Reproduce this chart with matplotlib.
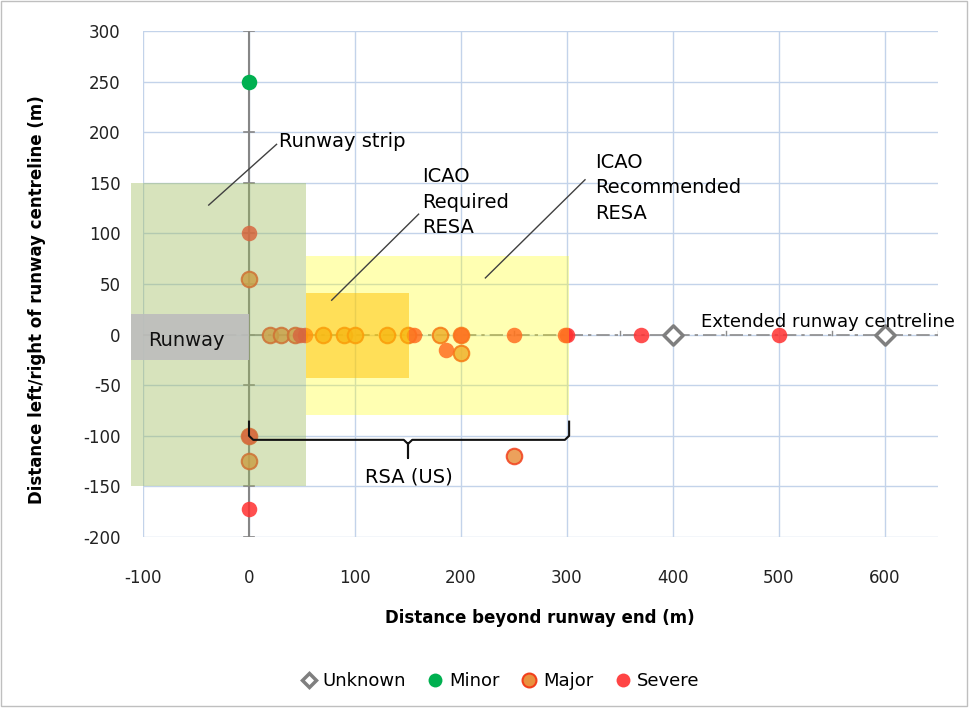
import matplotlib
matplotlib.use("Agg")
import matplotlib.pyplot as plt
from matplotlib.patches import Rectangle
from matplotlib.lines import Line2D

# incident locations (distance beyond runway end, offset from centreline), metres
unknown_x = [400, 600]
unknown_y = [0, 0]
minor_x = [0]
minor_y = [250]
major_x = [0, 0, 0, 20, 30, 43, 70, 90, 100, 130, 150, 180, 200, 200, 250]
major_y = [55, -100, -125, 0, 0, 0, 0, 0, 0, 0, 0, 0, 0, -18, -120]
severe_x = [0, 0, 0, 48, 53, 156, 186, 200, 250, 298, 300, 370, 500]
severe_y = [100, -100, -172, 0, 0, 0, -15, 0, 0, 0, 0, 0, 0]

# safety areas: (x0, x1, y0, y1)
strip = (-111, 54, -150, 150)
resa_req = (54, 151, -43, 41)
resa_rec = (54, 302, -79, 78)
runway = (-111, 0, -25, 20)

xticks = [-100, 0, 100, 200, 300, 400, 500, 600]
yticks = [-200, -150, -100, -50, 0, 50, 100, 150, 200, 250, 300]

plt.rcParams['font.family'] = ['DejaVu Sans']
plt.rcParams['axes.unicode_minus'] = False

fig = plt.figure(figsize=(9.74, 7.11), dpi=100)
ax = fig.add_axes([143/974, 1-537/711, 795/974, 506/711])
ax.set_xlim(-100, 650)
ax.set_ylim(-200, 300)
ax.set_xticks(xticks)
ax.set_yticks(yticks)
ax.tick_params(length=0, labelsize=12, colors='#222222')
ax.tick_params(axis='x', pad=23)
ax.tick_params(axis='y', pad=16)
for s in ax.spines.values():
    s.set_visible(False)
ax.grid(True, color='#c3d3ea', lw=1, zorder=0)
ax.set_axisbelow(True)

# axis lines through origin
ax.plot([0, 0], [-200, 300], color='#868686', lw=1.5, zorder=1)
for yt in yticks:
    ax.plot([-5, 5], [yt, yt], color='#868686', lw=1.2, zorder=1)
ax.plot([-100, 650], [0, 0], color='#8c8c8c', lw=1.2, ls=(0, (8, 3, 2, 3)), zorder=1)
for xt in range(-50, 651, 100):
    ax.plot([xt, xt], [0, 4], color='#8c8c8c', lw=1, zorder=1)

# points
ax.scatter(unknown_x, unknown_y, marker='D', s=95, facecolor='white',
           edgecolor='#7f7f7f', lw=2.5, zorder=3)
ax.scatter(minor_x, minor_y, marker='o', s=125, color='#00b050', lw=0, zorder=3)
ax.scatter(major_x, major_y, marker='o', s=125, facecolor='#e9913f',
           edgecolor='#f2401c', lw=1.5, alpha=0.85, zorder=3)
ax.scatter(severe_x, severe_y, marker='o', s=125, color='#ff3030', lw=0,
           alpha=0.85, zorder=3)

# shaded areas drawn over the chart
def box(b, fc, a, z):
    r = Rectangle((b[0], b[2]), b[1]-b[0], b[3]-b[2], facecolor=fc, alpha=a,
                  lw=0, zorder=z, clip_on=False)
    ax.add_patch(r)

box(strip, '#9bbb59', 0.4, 4)
box(resa_rec, '#ffff00', 0.3, 4)
box(resa_req, '#ffc000', 0.5, 5)
box(runway, '#bdbdbd', 0.9, 6)
ax.text(-95, -6, 'Runway', fontsize=14, va='center', ha='left', color='#111111', zorder=7)

# annotations
ax.plot([-38, 26], [128, 188], color='#404040', lw=1, zorder=7)
ax.text(28, 191, 'Runway strip', fontsize=14, va='center', ha='left', zorder=7)
ax.plot([78, 160], [34, 119], color='#404040', lw=1, zorder=7)
ax.text(163, 131, 'ICAO\nRequired\nRESA', fontsize=14, va='center', ha='left',
        linespacing=1.45, zorder=7)
ax.plot([223, 317], [56, 153], color='#404040', lw=1, zorder=7)
ax.text(327, 145, 'ICAO\nRecommended\nRESA', fontsize=14, va='center', ha='left',
        linespacing=1.45, zorder=7)
ax.text(426, 12, 'Extended runway centreline', fontsize=13, va='center', ha='left', zorder=7)

# RSA (US) bracket
bx = [0, 0, 4, 146, 150, 150, 150, 154, 298, 302, 302]
by = [-86, -100, -104, -104, -108, -122, -108, -104, -104, -100, -86]
ax.plot(bx, by, color='#111111', lw=1.5, zorder=7, solid_joinstyle='round')
ax.text(151, -141, 'RSA (US)', fontsize=14, va='center', ha='center', zorder=7)

fig.text(540/974, 1-618/711, 'Distance beyond runway end (m)', fontsize=12,
         fontweight='bold', ha='center', va='center')
fig.text(37/974, 1-300/711, 'Distance left/right of runway centreline (m)', fontsize=12,
         fontweight='bold', ha='center', va='center', rotation=90)

handles = [
    Line2D([], [], ls='none', marker='D', ms=7, mfc='white', mec='#7f7f7f', mew=2.5),
    Line2D([], [], ls='none', marker='o', ms=10, mfc='#00b050', mec='#00b050', mew=0),
    Line2D([], [], ls='none', marker='o', ms=10, mfc='#e9913f', mec='#f2401c', mew=1.5),
    Line2D([], [], ls='none', marker='o', ms=10, mfc='#ff3030', mec='#ff3030', mew=0, alpha=0.9),
]
fig.legend(handles, ['Unknown', 'Minor', 'Major', 'Severe'], loc='center',
           bbox_to_anchor=(497/974, 1-681/711), ncol=4, frameon=False,
           fontsize=13, handletextpad=0.0, columnspacing=0.9, handlelength=1.5)

# chart border
fig.patches.append(Rectangle((0.001, 1-706/711), 966/974, 706/711-0.001,
                             transform=fig.transFigure, fill=False,
                             edgecolor='#bfbfbf', lw=1))

fig.savefig('out.png', dpi=100)
